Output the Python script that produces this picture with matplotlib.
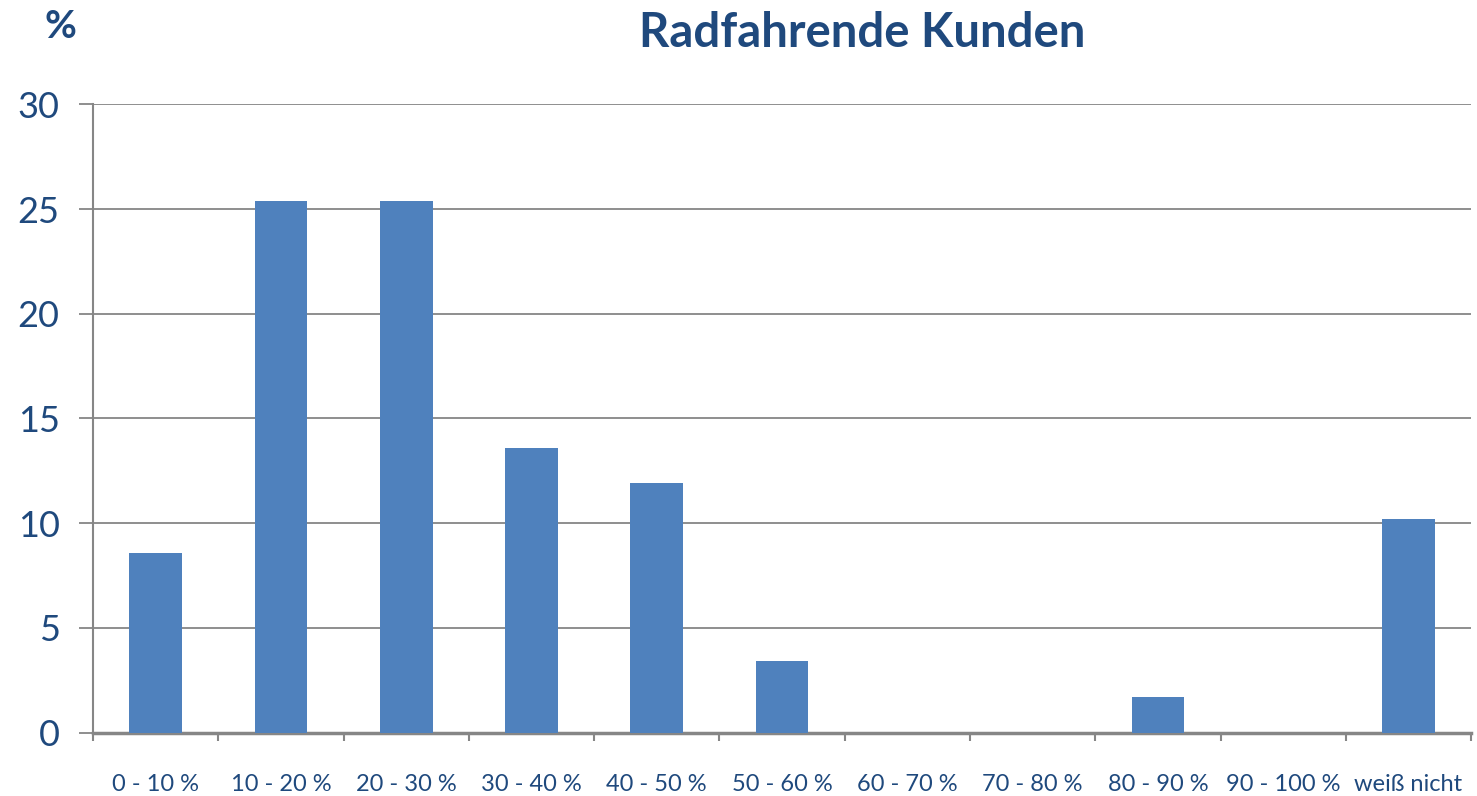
import matplotlib.pyplot as plt
import numpy as np

# --- Data ---
categories = ['0 - 10 %', '10 - 20 %', '20 - 30 %', '30 - 40 %', '40 - 50 %',
              '50 - 60 %', '60 - 70 %', '70 - 80 %', '80 - 90 %', '90 - 100 %',
              'weiß nicht']
values = [8.6, 25.4, 25.4, 13.6, 11.9, 3.4, 0, 0, 1.7, 0, 10.2]
y_ticks = [0, 5, 10, 15, 20, 25, 30]

text_color = '#1F497D'
bar_color = '#4F81BD'
line_color = '#868686'

plt.rcParams['font.family'] = ['Lato', 'DejaVu Sans']

fig = plt.figure(figsize=(14.77, 7.96), dpi=100)
ax = fig.add_axes([0.063, 0.0795, 0.933, 0.7895])

x = np.arange(len(categories))
ax.bar(x, values, width=0.42, color=bar_color, zorder=3)

ax.set_xlim(-0.5, len(categories) - 0.5)
ax.set_ylim(0, 30)
ax.set_yticks(y_ticks)
ax.set_yticklabels([str(v) for v in y_ticks], fontsize=26, color=text_color)
ax.grid(axis='y', color=line_color, linewidth=1.3, zorder=0)

# category boundaries as ticks, labels at centers
ax.set_xticks(np.arange(len(categories) + 1) - 0.5)
ax.set_xticklabels([])
ax.set_xticks(x, minor=True)
ax.set_xticklabels(categories, minor=True, fontsize=17, color=text_color)
ax.tick_params(axis='x', which='major', length=6, width=1.5, color=line_color, direction='out')
ax.tick_params(axis='x', which='minor', length=0, pad=30)
ax.tick_params(axis='y', length=10, width=1.3, color=line_color, pad=14)

for side in ['top', 'right']:
    ax.spines[side].set_visible(False)
ax.spines['left'].set_color(line_color)
ax.spines['left'].set_linewidth(1.5)
ax.spines['bottom'].set_color(line_color)
ax.spines['bottom'].set_linewidth(2.5)

fig.text(862 / 1477, 1 - 33 / 796, 'Radfahrende Kunden', fontsize=34, fontweight='bold',
         color=text_color, ha='center', va='center')
fig.text(60 / 1477, 1 - 27 / 796, '%', fontsize=28, fontweight='bold',
         color=text_color, ha='center', va='center')

fig.savefig('out.png', dpi=100)
